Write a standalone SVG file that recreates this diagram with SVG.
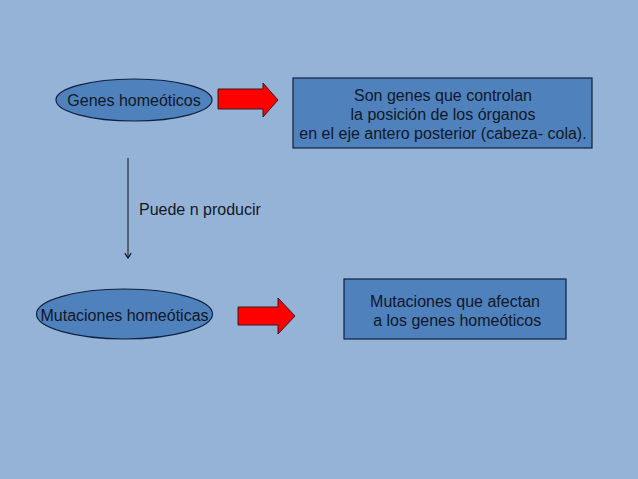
<svg xmlns="http://www.w3.org/2000/svg" width="638" height="479" viewBox="0 0 638 479">
<defs>
<style>
.node{fill:#4f81bd;stroke:#10203f;stroke-width:1.2}
.t{font-family:"Liberation Sans",Arial,sans-serif;font-size:16px;fill:#111827}
.red{fill:#ff0000;stroke:#3a1a1a;stroke-width:1}
</style>
<marker id="v" viewBox="0 0 10 10" refX="9" refY="5" markerWidth="8" markerHeight="8" orient="auto" markerUnits="userSpaceOnUse">
<path d="M3,1 L9,5 L3,9" fill="none" stroke="#111" stroke-width="1.5"/>
</marker>
</defs>
<rect width="638" height="479" fill="#95b3d7"/>
<g id="genes">
<ellipse class="node" cx="134" cy="100" rx="78" ry="21"/>
<text class="t" x="134" y="106" text-anchor="middle">Genes homeóticos</text>
</g>
<g id="arrow1">
<path class="red" d="M218,89 L263,89 L263,83 L278,100 L263,117 L263,109 L218,109 Z"/>
</g>
<g id="desc1">
<rect class="node" x="293" y="78" width="299" height="70"/>
<text class="t" text-anchor="middle"><tspan x="443" y="101">Son genes que controlan</tspan><tspan x="443" y="120">la posición de los órganos</tspan><tspan x="443" y="139">en el eje antero posterior (cabeza- cola).</tspan></text>
</g>
<g id="mutaciones">
<ellipse class="node" cx="124.5" cy="314" rx="88" ry="25"/>
<text class="t" x="124.5" y="321" text-anchor="middle">Mutaciones homeóticas</text>
</g>
<g id="arrow2">
<path class="red" d="M238,307 L278,307 L278,298 L295,316 L278,334 L278,325 L238,325 Z"/>
</g>
<g id="desc2">
<rect class="node" x="344" y="279" width="222" height="60"/>
<text class="t" text-anchor="middle"><tspan x="455" y="307">Mutaciones que afectan</tspan><tspan x="455" y="326"> a los genes homeóticos</tspan></text>
</g>
<g id="connectors">
<line x1="128" y1="158" x2="128" y2="258" stroke="#111" stroke-width="1" marker-end="url(#v)"/>
<text class="t" x="139" y="215">Puede n producir</text>
</g>
</svg>
